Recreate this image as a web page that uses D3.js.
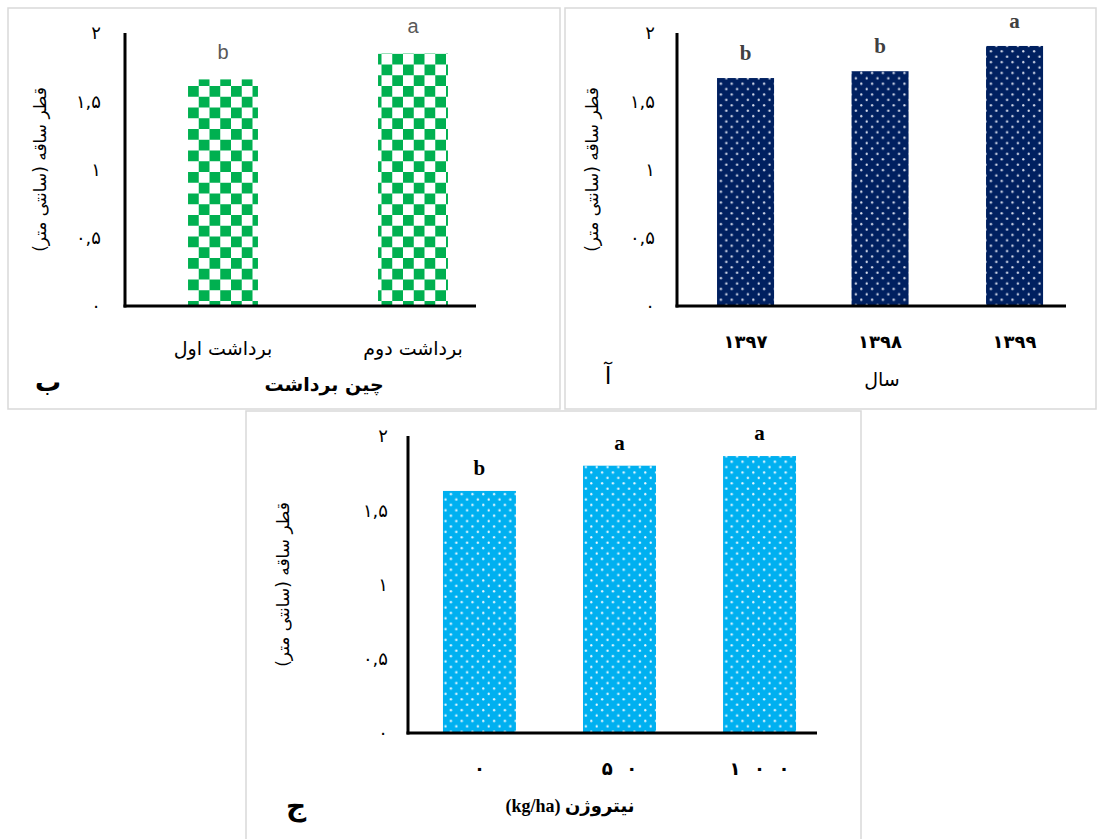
<!DOCTYPE html>
<html>
<head>
<meta charset="utf-8">
<script src="https://cdn.jsdelivr.net/npm/d3@7"></script>
<style>
  html, body { margin: 0; padding: 0; background: #fff; }
  svg { display: block; }
</style>
</head>
<body>
<svg id="chart" width="1102" height="839"></svg>
<script>
// Stem diameter (cm) by harvest cut, year and nitrogen rate
const yTicks = [0, 0.5, 1, 1.5, 2];
const yTickLabels = ["۰", "۰,۵", "۱", "۱,۵", "۲"];
const yTitle = "قطر ساقه (سانتی متر)";

const harvestCats = ["برداشت اول", "برداشت دوم"];
const harvestVals = [1.66, 1.85];
const harvestLetters = ["b", "a"];

const yearCats = ["۱۳۹۷", "۱۳۹۸", "۱۳۹۹"];
const yearVals = [1.67, 1.72, 1.905];
const yearLetters = ["b", "b", "a"];

const nitrogenCats = ["۰", "۵۰", "۱۰۰"];
const nitrogenVals = [1.63, 1.80, 1.865];
const nitrogenLetters = ["b", "a", "a"];

const svg = d3.select("#chart");
const defs = svg.append("defs");

// Checkerboard fill (green / white)
const checker = defs.append("pattern").attr("id", "checker")
  .attr("patternUnits", "userSpaceOnUse").attr("width", 21.5).attr("height", 21.5)
  .attr("x", 188).attr("y", 0);
checker.append("rect").attr("width", 21.5).attr("height", 21.5).attr("fill", "#ffffff");
checker.append("rect").attr("x", 0).attr("y", 0).attr("width", 10.75).attr("height", 10.75).attr("fill", "#00b050");
checker.append("rect").attr("x", 10.75).attr("y", 10.75).attr("width", 10.75).attr("height", 10.75).attr("fill", "#00b050");

// Staggered dot fills
function dotPattern(id, bg, dot) {
  const p = defs.append("pattern").attr("id", id)
    .attr("patternUnits", "userSpaceOnUse").attr("width", 10.8).attr("height", 10.8);
  p.append("rect").attr("width", 10.8).attr("height", 10.8).attr("fill", bg);
  p.append("circle").attr("cx", 2.7).attr("cy", 2.7).attr("r", 1.15).attr("fill", dot);
  p.append("circle").attr("cx", 8.1).attr("cy", 8.1).attr("r", 1.15).attr("fill", dot);
}
dotPattern("navyDots", "#002060", "#d6dcec");
dotPattern("blueDots", "#00b0f0", "#eaf8ff");

const persianFont = "'DejaVu Sans', sans-serif";
const mixedFont = "'Liberation Serif', 'DejaVu Sans', serif";

const panels = [
  {
    box: [8, 8, 552, 401],
    cats: harvestCats, vals: harvestVals, letters: harvestLetters,
    xRange: [128, 508], padIn: 0.632, padOut: 0.316,
    axisX: 125, axisEnd: 476, yRange: [306, 33],
    fill: "url(#checker)",
    tickX: 101, titleX: 40,
    letterFont: "'Liberation Sans', Arial, sans-serif", letterWeight: "normal", letterColor: "#595959", letterSize: 20, letterGap: 20,
    catY: 355, catWeight: "normal", catSize: 19, catDir: "rtl", catJoin: null,
    axisTitle: "چین برداشت", axisTitleX: 324, axisTitleY: 391, axisTitleWeight: "bold", axisTitleSize: 19, axisTitleFont: persianFont,
    tag: "ب", tagX: 48, tagY: 391, tagWeight: "bold", tagSize: 26
  },
  {
    box: [565, 8, 531, 401],
    cats: yearCats, vals: yearVals, letters: yearLetters,
    xRange: [678.3, 1081.8], padIn: 0.576, padOut: 0.288,
    axisX: 677, axisEnd: 1066, yRange: [306, 33],
    fill: "url(#navyDots)",
    tickX: 655, titleX: 592,
    letterFont: "'Liberation Serif', 'Times New Roman', serif", letterWeight: "bold", letterColor: "#404040", letterSize: 21, letterGap: 18,
    catY: 348, catWeight: "bold", catSize: 18, catDir: "ltr", catJoin: null,
    axisTitle: "سال", axisTitleX: 882, axisTitleY: 386, axisTitleWeight: "normal", axisTitleSize: 19, axisTitleFont: persianFont,
    tag: "آ", tagX: 608, tagY: 384, tagWeight: "normal", tagSize: 24
  },
  {
    box: [246, 411, 615, 440],
    cats: nitrogenCats, vals: nitrogenVals, letters: nitrogenLetters,
    xRange: [409.5, 829.5], padIn: 0.479, padOut: 0.239,
    axisX: 408, axisEnd: 817, yRange: [733, 436],
    fill: "url(#blueDots)",
    tickX: 388, titleX: 283,
    letterFont: "'Liberation Serif', 'Times New Roman', serif", letterWeight: "bold", letterColor: "#000000", letterSize: 21, letterGap: 16,
    catY: 775, catWeight: "bold", catSize: 18, catDir: "ltr", catJoin: "\u2002\u2005",
    axisTitle: "نیتروژن (kg/ha)", axisTitleX: 570, axisTitleY: 812, axisTitleWeight: "bold", axisTitleSize: 18, axisTitleFont: mixedFont,
    tag: "ج", tagX: 296, tagY: 815, tagWeight: "bold", tagSize: 28
  }
];

panels.forEach(p => {
  const g = svg.append("g");

  // Panel frame
  g.append("rect")
    .attr("x", p.box[0]).attr("y", p.box[1]).attr("width", p.box[2]).attr("height", p.box[3])
    .attr("fill", "#fff").attr("stroke", "#d9d9d9").attr("stroke-width", 1.5);

  const x = d3.scaleBand().domain(p.cats).range(p.xRange)
    .paddingInner(p.padIn).paddingOuter(p.padOut);
  const y = d3.scaleLinear().domain([0, 2]).range(p.yRange);

  const data = p.cats.map((c, i) => ({ cat: c, val: p.vals[i], letter: p.letters[i] }));

  // Bars
  g.selectAll("rect.bar").data(data).join("rect")
    .attr("class", "bar")
    .attr("x", d => x(d.cat))
    .attr("y", d => y(d.val))
    .attr("width", x.bandwidth())
    .attr("height", d => y(0) - y(d.val))
    .attr("fill", p.fill);

  // Significance letters
  g.selectAll("text.letter").data(data).join("text")
    .attr("class", "letter")
    .attr("x", d => x(d.cat) + x.bandwidth() / 2)
    .attr("y", d => y(d.val) - p.letterGap)
    .attr("text-anchor", "middle")
    .attr("font-family", p.letterFont)
    .attr("font-weight", p.letterWeight)
    .attr("font-size", p.letterSize)
    .attr("fill", p.letterColor)
    .text(d => d.letter);

  // Y tick labels
  g.selectAll("text.ytick").data(yTicks).join("text")
    .attr("class", "ytick")
    .attr("x", p.tickX)
    .attr("y", d => y(d))
    .attr("dy", "0.35em")
    .attr("text-anchor", "end")
    .attr("font-family", persianFont)
    .attr("font-size", 18)
    .attr("fill", "#000")
    .text((d, i) => yTickLabels[i]);

  // Axis lines
  g.append("line")
    .attr("x1", p.axisX).attr("x2", p.axisX)
    .attr("y1", y(2)).attr("y2", y(0) + 1.5)
    .attr("stroke", "#000").attr("stroke-width", 3);
  g.append("line")
    .attr("x1", p.axisX - 1.5).attr("x2", p.axisEnd)
    .attr("y1", y(0)).attr("y2", y(0))
    .attr("stroke", "#000").attr("stroke-width", 3);

  // Category labels (digits of the nitrogen rates are set wide apart)
  g.selectAll("text.cat").data(data).join("text")
    .attr("class", "cat")
    .attr("x", d => x(d.cat) + x.bandwidth() / 2)
    .attr("y", p.catY)
    .attr("text-anchor", "middle")
    .attr("direction", p.catDir)
    .attr("font-family", persianFont)
    .attr("font-weight", p.catWeight)
    .attr("font-size", p.catSize)
    .attr("fill", "#000")
    .text(d => p.catJoin ? Array.from(d.cat).join(p.catJoin) : d.cat);

  // Y axis title
  const cy = (y(0) + y(2)) / 2;
  g.append("text")
    .attr("transform", `translate(${p.titleX},${cy}) rotate(-90)`)
    .attr("text-anchor", "middle")
    .attr("direction", "rtl")
    .attr("dy", "0.35em")
    .attr("font-family", persianFont)
    .attr("font-size", 17)
    .attr("fill", "#000")
    .text(yTitle);

  // X axis title
  g.append("text")
    .attr("x", p.axisTitleX).attr("y", p.axisTitleY)
    .attr("text-anchor", "middle")
    .attr("direction", "rtl")
    .attr("font-family", p.axisTitleFont)
    .attr("font-weight", p.axisTitleWeight)
    .attr("font-size", p.axisTitleSize)
    .attr("fill", "#000")
    .text(p.axisTitle);

  // Panel tag
  g.append("text")
    .attr("x", p.tagX).attr("y", p.tagY)
    .attr("text-anchor", "middle")
    .attr("direction", "rtl")
    .attr("font-family", persianFont)
    .attr("font-weight", p.tagWeight)
    .attr("font-size", p.tagSize)
    .attr("fill", "#000")
    .text(p.tag);
});
</script>
</body>
</html>
